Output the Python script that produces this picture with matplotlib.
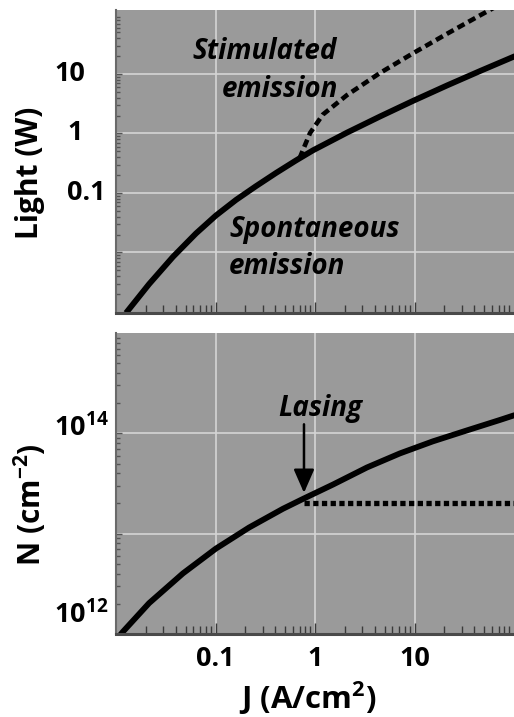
import matplotlib
matplotlib.use('Agg')
import matplotlib.pyplot as plt
from matplotlib.ticker import LogLocator, NullFormatter, FixedLocator

plt.rcParams['font.family'] = ['Open Sans', 'DejaVu Sans']
plt.rcParams['font.weight'] = 'bold'
plt.rcParams['mathtext.fontset'] = 'custom'
plt.rcParams['mathtext.rm'] = 'Open Sans:bold'
plt.rcParams['mathtext.bf'] = 'Open Sans:bold'

# current density J (A/cm^2) and light output (W)
j_spont = [0.0126, 0.0215, 0.0374, 0.0637, 0.101, 0.161, 0.255, 0.406, 0.644, 0.955,
           2.10, 4.50, 9.66, 21.2, 45.5, 97.7, 110]
light_spont = [0.00096, 0.00294, 0.00845, 0.0209, 0.0418, 0.0766, 0.130, 0.217, 0.352, 0.521,
               1.035, 1.93, 3.53, 6.41, 11.2, 19.3, 20.9]

j_stim = [0.70, 0.757, 0.891, 1.20, 2.10, 4.50, 9.66, 21.2, 45.5, 63.1]
light_stim = [0.382, 0.528, 1.016, 2.08, 4.43, 10.4, 22.3, 47.4, 96.6, 130.6]

# carrier density N (cm^-2)
j_carrier = [0.0105, 0.0117, 0.0215, 0.0471, 0.101, 0.217, 0.476, 0.75, 1.52, 3.33, 7.14,
             15.3, 33.7, 72.3, 97.7, 110]
n_carrier = [0.92e12, 1.05e12, 2.03e12, 4.02e12, 7.10e12, 1.15e13, 1.77e13, 2.21e13, 3.09e13,
             4.57e13, 6.31e13, 8.32e13, 1.07e14, 1.36e14, 1.50e14, 1.55e14]

j_clamp = [0.78, 110]
n_clamp = [2.03e13, 2.03e13]

light_ticks = [10, 1, 0.1]
light_ticklabels = ['10', '1', '0.1']
n_ticks = [1e14, 1e12]
n_ticklabels = ['10$^{\\mathregular{14}}$', '10$^{\\mathregular{12}}$']
j_ticks = [0.1, 1, 10]
j_ticklabels = ['0.1', '1', '10']

W, H = 514, 717
fig = plt.figure(figsize=(W / 100, H / 100), dpi=100)
fig.patch.set_facecolor('white')

ax1 = fig.add_axes([116 / W, 1 - 313 / H, 398 / W, 303 / H])
ax2 = fig.add_axes([116 / W, 1 - 634 / H, 398 / W, 301 / H])

bg = '#9a9a9a'
grid_c = '#d4d4d4'
for ax in (ax1, ax2):
    ax.set_facecolor(bg)
    ax.set_xscale('log')
    ax.set_yscale('log')
    ax.set_xlim(0.01, 100)
    ax.xaxis.set_major_locator(FixedLocator(j_ticks))
    ax.xaxis.set_minor_locator(LogLocator(base=10, subs=range(2, 10)))
    ax.xaxis.set_minor_formatter(NullFormatter())
    ax.yaxis.set_minor_locator(LogLocator(base=10, subs=range(2, 10)))
    ax.yaxis.set_minor_formatter(NullFormatter())
    ax.grid(True, which='major', color=grid_c, linewidth=1.2)
    ax.set_axisbelow(True)
    for s in ('top', 'right'):
        ax.spines[s].set_visible(False)
    ax.spines['bottom'].set_color('#4a4a4a')
    ax.spines['bottom'].set_linewidth(2.2)
    ax.spines['left'].set_color('#6a6a6a')
    ax.spines['left'].set_linewidth(1.5)
    ax.tick_params(axis='x', which='major', direction='in', length=8, width=1, color='#3a3a3a')
    ax.tick_params(axis='x', which='minor', direction='in', length=5.5, width=1, color='#3a3a3a')
    ax.tick_params(axis='y', which='both', direction='in', length=3, width=1, color='#555555')
    ax.tick_params(axis='y', which='major', labelleft=False, length=4)

# top panel: light output
ax1.set_ylim(9.6e-4, 119)
ax1.yaxis.set_major_locator(FixedLocator([1e-2, 1e-1, 1, 10]))
ax1.plot(j_spont, light_spont, color='black', linewidth=4.2, solid_capstyle='butt')
ax1.plot(j_stim, light_stim, color='black', linewidth=3.3, linestyle=(0, (1.7, 1.0)))
ax1.tick_params(axis='x', labelbottom=False)

tick_x = [70, 75.5, 86.5]
for val, lab, px in zip(light_ticks, light_ticklabels, tick_x):
    ax1.text((px - 116) / 398, val, lab, transform=ax1.get_yaxis_transform(),
             ha='center', va='center', fontsize=19.5, fontweight='bold')

txt = dict(fontsize=20, fontweight='bold', style='italic', ha='center', va='center')
ax1.text(0.314, 23.5, 'Stimulated', **txt)
ax1.text(0.445, 5.4, 'emission', **txt)
ax1.text(1.0, 0.024, 'Spontaneous', **txt)
ax1.text(0.524, 0.0057, 'emission', **txt)

# bottom panel: carrier density
ax2.set_ylim(1e12, 1e15)
ax2.yaxis.set_major_locator(FixedLocator([1e13, 1e14]))
ax2.plot(j_carrier, n_carrier, color='black', linewidth=4.2)
ax2.plot(j_clamp, n_clamp, color='black', linewidth=3.8, linestyle=(0, (1.0, 0.65)))
ax2.set_xticklabels(j_ticklabels)
ax2.tick_params(axis='x', which='major', labelsize=19.5, pad=9)

n_label_y = [428, 615]
for lab, py in zip(n_ticklabels, n_label_y):
    fig.text(81 / W, 1 - py / H, lab, ha='center', va='center', fontsize=19.5, fontweight='bold')

ax2.annotate('', xy=(0.775, 2.55e13), xytext=(0.775, 1.23e14),
             arrowprops=dict(arrowstyle='-|>,head_length=0.8,head_width=0.35', color='black',
                             lw=1.8, mutation_scale=18, shrinkA=0, shrinkB=0))
ax2.text(1.12, 1.78e14, 'Lasing', **txt)

fig.text(30 / W, 1 - 173 / H, 'Light (W)', rotation=90, ha='center', va='center',
         fontsize=21.5, fontweight='bold')
fig.text(30 / W, 1 - 505 / H, 'N (cm$^{\\mathregular{-2}}$)', rotation=90, ha='center', va='center',
         fontsize=21.5, fontweight='bold')
fig.text(308 / W, 1 - 698 / H, 'J (A/cm$^{\\mathregular{2}}$)', ha='center', va='center',
         fontsize=22.5, fontweight='bold')

fig.savefig('out.png', dpi=100)
